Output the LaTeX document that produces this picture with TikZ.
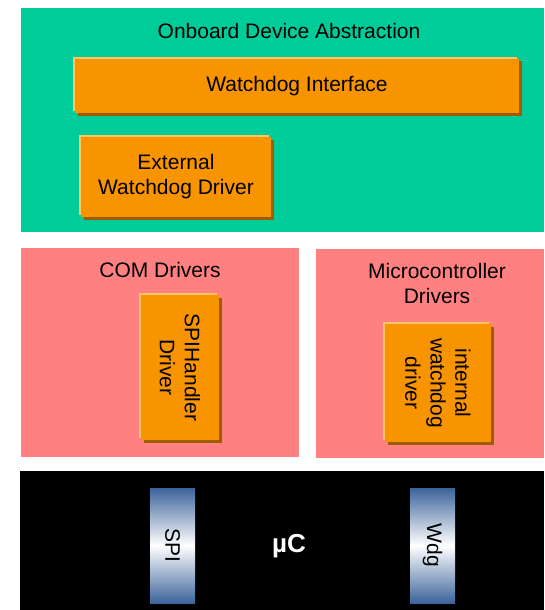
\documentclass[tikz,border=0pt]{standalone}
\usepackage{fontspec}
\setmainfont{Liberation Sans}
\usetikzlibrary{shadows}
\definecolor{odagreen}{RGB}{0,204,153}
\definecolor{drvpink}{RGB}{255,128,128}
\definecolor{modorange}{RGB}{248,148,0}
\definecolor{modlight}{RGB}{255,196,100}
\definecolor{moddark}{RGB}{160,92,0}
\definecolor{portblue}{RGB}{60,100,155}
\tikzstyle{layer} = [rectangle, inner sep=0pt]
\tikzstyle{module} = [rectangle, inner sep=0pt, align=center, fill=modorange, general shadow={shadow xshift=-2pt, shadow yshift=2pt, fill=modlight}, general shadow={shadow xshift=2.5pt, shadow yshift=-2.5pt, fill=moddark}]
\tikzstyle{port} = [rectangle, inner sep=0pt, top color=portblue, bottom color=portblue, middle color=white, minimum width=45pt, minimum height=115pt]

\begin{document}
\begin{tikzpicture}[x=1pt, y=-1pt, font=\fontsize{21}{25}\selectfont]
		\useasboundingbox (0,0) rectangle (544,610);
		% Layers
		\node (oda) [layer, fill=odagreen, minimum width=523pt, minimum height=224pt] at (282.5,120) {};
		\node (com) [layer, fill=drvpink, minimum width=278pt, minimum height=209pt] at (160,352.5) {};
		\node (mcal) [layer, fill=drvpink, minimum width=228pt, minimum height=209pt] at (430,353.5) {};
		\node (mcu) [layer, fill=black, minimum width=524pt, minimum height=139pt] at (282,540.5) {};
		% Layer titles
		\node (odatitle) at (289,31) {Onboard Device Abstraction};
		\node (comtitle) at (160,270) {COM Drivers};
		\node (mcaltitle) [align=center] at (437,283) {Microcontroller\\Drivers};
		% Modules
		\node (wdgif) [module, minimum width=444pt, minimum height=54pt] at (297,86) {Watchdog Interface};
		\node (extwdg) [module, minimum width=190pt, minimum height=80pt] at (176,177) {External\\Watchdog Driver};
		\node (spidrv) [module, minimum width=78pt, minimum height=145pt] at (180,367.5) {};
		\node [rotate=-90, align=center] at (spidrv) {SPIHandler\\Driver};
		\node (wdgdrv) [module, minimum width=106pt, minimum height=118pt] at (438,383) {};
		\node [rotate=-90, align=center] at (wdgdrv) {internal\\watchdog\\driver};
		% Microcontroller
		\node (spi) [port] at (172.5,545.5) {};
		\node [rotate=-90] at (spi) {SPI};
		\node (wdg) [port] at (432.5,545.5) {};
		\node [rotate=-90] at (wdg) {Wdg};
		\node (uc) [text=white, font=\fontsize{26}{30}\selectfont\bfseries] at (289,546) {µC};
	\end{tikzpicture}
\end{document}
